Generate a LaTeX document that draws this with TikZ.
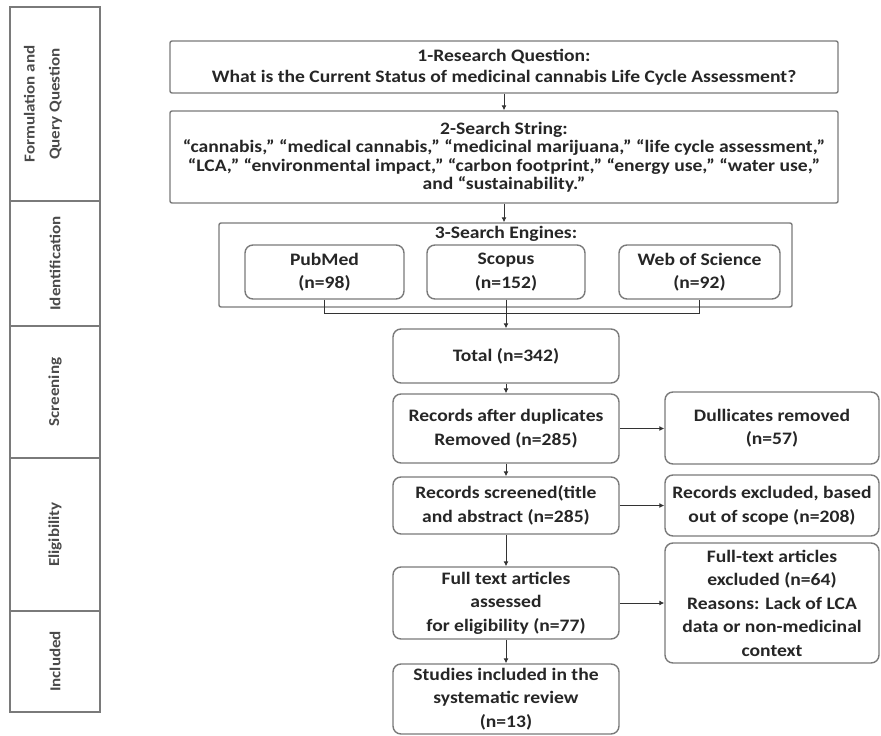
\documentclass[tikz,border=0pt]{standalone}
\usepackage{fontspec}
\setmainfont{Carlito}[FakeStretch=1.12]
\usetikzlibrary{arrows.meta}
\definecolor{bord}{HTML}{7A7A7A}
\definecolor{txt}{HTML}{262626}
\definecolor{arrc}{HTML}{333333}
\definecolor{sidetxt}{HTML}{4A4A4A}
\begin{document}
\begin{tikzpicture}[x=1pt,y=-1pt,
  every node/.style={font=\fontsize{17.5}{19}\selectfont\bfseries, text=txt, align=center, inner sep=0pt},
  flow/.style={draw=bord, line width=1.4pt, rounded corners=8pt, minimum width=226pt, font=\fontsize{17.5}{23.5}\selectfont\bfseries},
  sq/.style={draw=bord, line width=1.4pt, rounded corners=2pt},
  side/.style={draw=bord, line width=1.4pt, rotate=90, minimum height=90pt, font=\fontsize{15.2}{25}\selectfont\bfseries, text=sidetxt},
  sidetext/.style={rotate=90, font=\fontsize{15.2}{25}\selectfont\bfseries, text=sidetxt},
  arr/.style={draw=arrc, line width=0.9pt, -{Latex[length=5pt,width=5pt]}},
  plain/.style={draw=arrc, line width=0.9pt}
]
\useasboundingbox (0,0) rectangle (881,736);
% left column
\node[side, minimum width=194pt] (s1) at (55,104) {};
\node[sidetext] (s1t) at (43,104) {Formulation and\\Query Question};
\node[side, minimum width=125pt] (s2) at (55,263.5) {Identification};
\node[side, minimum width=132pt] (s3) at (55,392) {Screening};
\node[side, minimum width=153pt] (s4) at (55,534.5) {Eligibility};
\node[side, minimum width=101pt] (s5) at (55,661.5) {Included};
% main
\node[sq, minimum width=668pt, minimum height=52pt, font=\fontsize{17.5}{21}\selectfont\bfseries] (q1) at (504,67) {1-Research Question:\\What is the Current Status of medicinal cannabis Life Cycle Assessment?};
\node[sq, minimum width=668pt, minimum height=92pt, font=\fontsize{17.5}{18.5}\selectfont\bfseries] (q2) at (504,157) {2-Search String:\\``cannabis,'' ``medical cannabis,'' ``medicinal marijuana,'' ``life cycle assessment,''\\``LCA,'' ``environmental impact,'' ``carbon footprint,'' ``energy use,'' ``water use,''\\and ``sustainability.''};
\node[sq, minimum width=573pt, minimum height=84pt] (se) at (505.5,265) {};
\node (set) at (506,234) {3-Search Engines:};
\node[flow, minimum width=159pt, minimum height=54pt] (pm) at (324.5,272) {PubMed\\(n=98)};
\node[flow, minimum width=158pt, minimum height=54pt] (sc) at (506,272) {Scopus\\(n=152)};
\node[flow, minimum width=161pt, minimum height=54pt] (ws) at (699.5,272) {Web of Science\\(n=92)};
\node[flow, minimum height=54pt] (tot) at (506,356) {Total (n=342)};
\node[flow, minimum height=69pt] (rad) at (506,428.5) {Records after duplicates\\Removed (n=285)};
\node[flow, minimum width=214pt, minimum height=72pt] (dup) at (772,428) {Dullicates removed\\(n=57)};
\node[flow, minimum height=57pt] (rsc) at (506,505.5) {Records screened(title\\and abstract (n=285)};
\node[flow, minimum width=214pt, minimum height=61pt] (rex) at (772,505.5) {Records excluded, based\\out of scope (n=208)};
\node[flow, minimum height=72pt] (ft) at (506,603) {Full text articles\\assessed\\for eligibility (n=77)};
\node[flow, minimum width=214pt, minimum height=120pt] (fex) at (772,603) {Full-text articles\\excluded (n=64)\\Reasons: Lack of LCA\\data or non-medicinal\\context};
\node[flow, minimum height=70pt] (st) at (506,699) {Studies included in the\\systematic review\\(n=13)};
% connectors
\draw[arr] (q1.south) -- (q1.south |- q2.north);
\draw[arr] (q2.south) -- (q2.south |- se.north);
\draw[plain] (pm.south) -- ++(0,14) coordinate (m1) -| (ws.south);
\draw[arr] (sc.south) -- (tot.north);
\draw[arr] (tot) -- (rad);
\draw[arr] (rad) -- (rsc);
\draw[arr] (rsc) -- (ft);
\draw[arr] (ft) -- (st);
\draw[arr] (rad.east) -- (rad.east -| dup.west);
\draw[arr] (rsc.east) -- (rsc.east -| rex.west);
\draw[arr] (ft.east) -- (ft.east -| fex.west);
\end{tikzpicture}
\end{document}
